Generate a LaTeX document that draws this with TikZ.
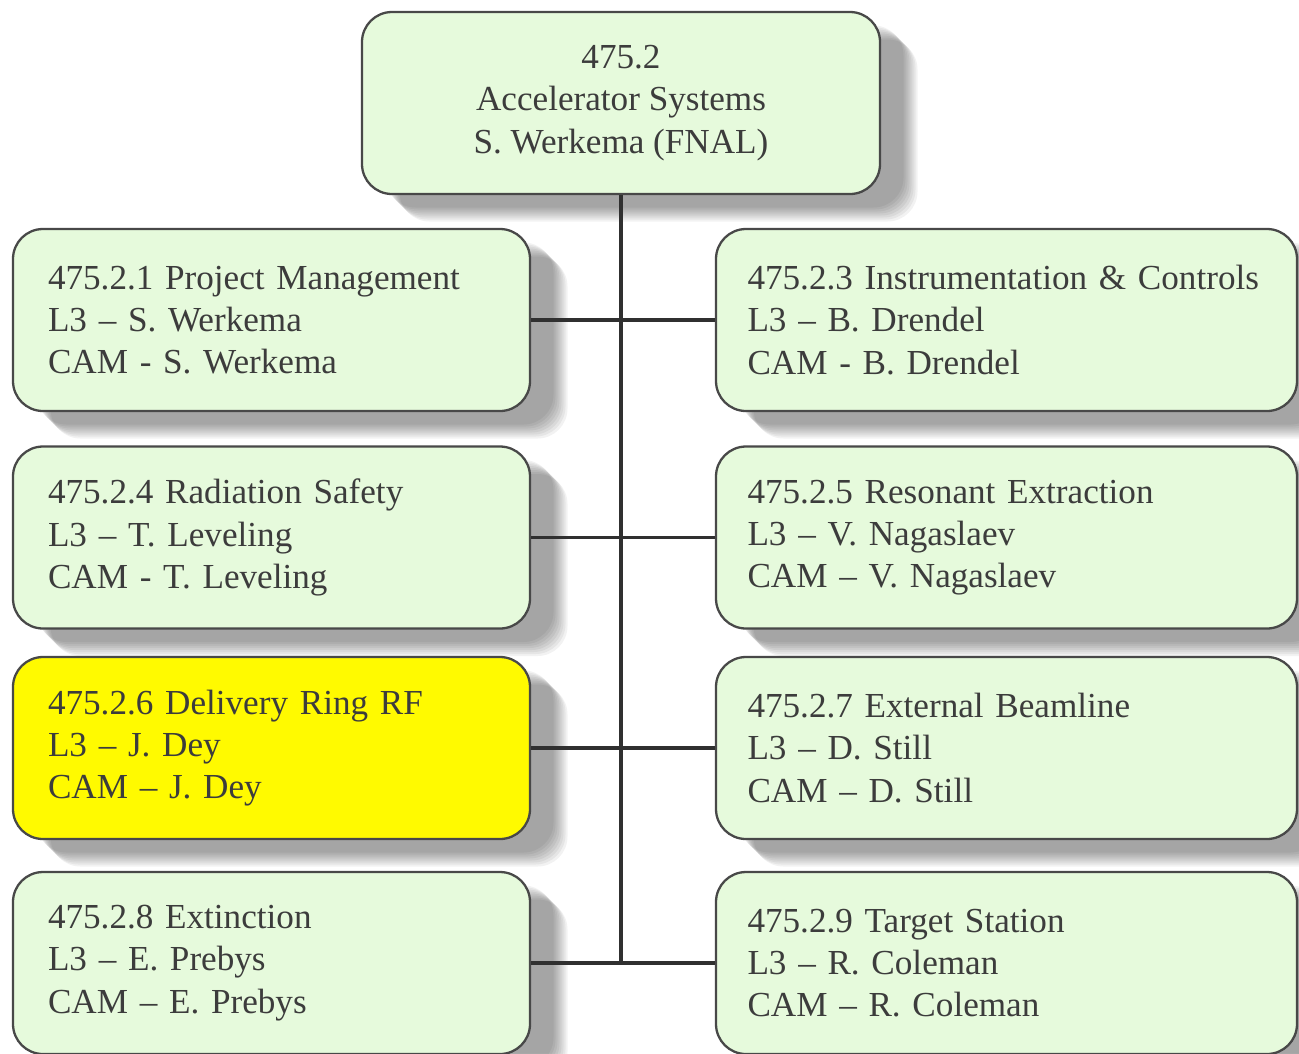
\documentclass[tikz,border=0pt]{standalone}
\usepackage{fontspec}
\setmainfont{Liberation Serif}
\usepackage{tikz}
\usetikzlibrary{shadows}
\definecolor{boxgreen}{HTML}{E6FADC}
\definecolor{boxline}{HTML}{484848}
\definecolor{boxtext}{HTML}{3C3C3C}
\definecolor{linkgray}{HTML}{303030}
\definecolor{rfyellow}{HTML}{FFFA00}
\tikzset{
  shadowstep/.style={drop shadow={shadow xshift=#1cm, shadow yshift=-#1cm+0.2cm,
    fill=black, opacity=0.05}},
  softshadow/.style={shadowstep=0.47, shadowstep=0.51, shadowstep=0.55, shadowstep=0.59,
    shadowstep=0.63, shadowstep=0.67, shadowstep=0.71, shadowstep=0.75},
  wbs/.style={draw=boxline, line width=1.3pt, fill=boxgreen, rounded corners=0.6cm,
    minimum height=3.64cm, inner ysep=0pt, text=boxtext,
    font=\fontsize{20}{24}\selectfont, softshadow},
  leftbox/.style={wbs, inner xsep=0.7cm, text width=8.94cm, align=left},
  rightbox/.style={wbs, inner xsep=0.63cm, text width=10.36cm, align=left},
  topbox/.style={wbs, minimum width=10.36cm, align=center},
  current/.style={fill=rfyellow},
  link/.style={draw=linkgray, line width=2.2pt}
}

\begin{document}
\begin{tikzpicture}
\clip (0,0) rectangle (25.98,-21.06);
\fill[white] (0,0) rectangle (25.98,-21.06);

\node[topbox] (acc) at (12.42,-2.06) {475.2\\Accelerator Systems\\S. Werkema (FNAL)};

\node[leftbox] (pm) at (5.43,-6.4) {475.2.1 Project Management\\L3 -- S. Werkema\\CAM - S. Werkema};
\node[rightbox] (ic) at (20.13,-6.4) {475.2.3 Instrumentation \& Controls\\L3 -- B. Drendel\\CAM - B. Drendel};

\node[leftbox] (rs) at (5.43,-10.75) {475.2.4 Radiation Safety\\L3 -- T. Leveling\\CAM - T. Leveling};
\node[rightbox] (rx) at (20.13,-10.75) {475.2.5 Resonant Extraction\\L3 -- V. Nagaslaev\\CAM -- V. Nagaslaev};

\node[leftbox, current] (rf) at (5.43,-14.96) {475.2.6 Delivery Ring RF\\L3 -- J. Dey\\CAM -- J. Dey};
\node[rightbox] (eb) at (20.13,-14.96) {475.2.7 External Beamline\\L3 -- D. Still\\CAM -- D. Still};

\node[leftbox] (ex) at (5.43,-19.26) {475.2.8 Extinction\\L3 -- E. Prebys\\CAM -- E. Prebys};
\node[rightbox] (ts) at (20.13,-19.26) {475.2.9 Target Station\\L3 -- R. Coleman\\CAM -- R. Coleman};

% connectors
\draw[link] (acc.south) -- (acc.south |- ex.east);
\draw[link] (pm.east) -- (ic.west);
\draw[link] (rs.east) -- (rx.west);
\draw[link] (rf.east) -- (eb.west);
\draw[link] (ex.east) -- (ts.west);
\end{tikzpicture}
\end{document}
